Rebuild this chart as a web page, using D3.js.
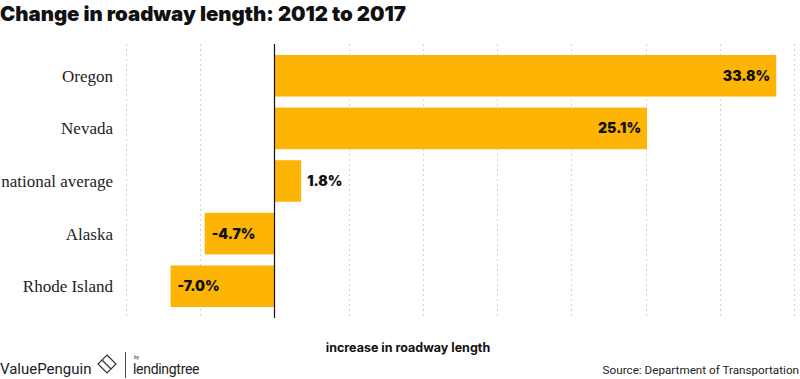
<!DOCTYPE html>
<html><head><meta charset="utf-8">
<script src="https://cdn.jsdelivr.net/npm/d3@7"></script>
<style>body{margin:0;background:#fff}svg{display:block}</style>
</head><body>
<script>
const title = "Change in roadway length: 2012 to 2017";
const categories = ["Oregon", "Nevada", "national average", "Alaska", "Rhode Island"];
const values = [33.8, 25.1, 1.8, -4.7, -7.0];
const gridTicks = [-10, -5, 0, 5, 10, 15, 20, 25, 30, 35];
const axisTitle = "increase in roadway length";
const source = "Source: Department of Transportation";

const W = 800, H = 379;
const svg = d3.select("body").append("svg").attr("width", W).attr("height", H);

const x = d3.scaleLinear().domain([-10, 35]).range([126, 794]);
const y = d3.scaleBand().domain(categories).range([45, 317]).paddingInner(0.21).paddingOuter(0.19);

// title
svg.append("text").attr("x", 0).attr("y", 21)
  .attr("font-family", "Inter, 'Open Sans', sans-serif").attr("font-weight", 900)
  .attr("font-size", 20.4).attr("fill", "#111").text(title);

// gridlines
svg.append("g").selectAll("line").data(gridTicks.filter(d => d !== 0)).join("line")
  .attr("x1", d => Math.round(x(d)) + 0.5).attr("x2", d => Math.round(x(d)) + 0.5)
  .attr("y1", 44).attr("y2", 318)
  .attr("stroke", "#dccfd0").attr("stroke-width", 1).attr("stroke-dasharray", "2,3");

// bars
const data = categories.map((c, i) => ({c, v: values[i]}));
svg.append("g").selectAll("rect").data(data).join("rect")
  .attr("x", d => x(Math.min(0, d.v))).attr("y", d => y(d.c))
  .attr("width", d => Math.abs(x(d.v) - x(0))).attr("height", y.bandwidth())
  .attr("fill", "#FDB404");

// zero line
svg.append("line").attr("x1", Math.round(x(0)) + 0.5).attr("x2", Math.round(x(0)) + 0.5)
  .attr("y1", 44).attr("y2", 318).attr("stroke", "#111").attr("stroke-width", 1.2);

// category labels
svg.append("g").selectAll("text").data(categories).join("text")
  .attr("x", 113).attr("y", d => y(d) + y.bandwidth() / 2).attr("dy", "0.35em")
  .attr("text-anchor", "end").attr("font-family", "'Liberation Serif', serif")
  .attr("font-size", 17).attr("fill", "#222").text(d => d);

// value labels
const fmt = v => v.toFixed(1) + "%";
svg.append("g").selectAll("text").data(data).join("text")
  .attr("x", d => {
    if (d.v < 0) return x(d.v) + 7;
    const w = x(d.v) - x(0);
    return w > 50 ? x(d.v) - 6 : x(d.v) + 6;
  })
  .attr("text-anchor", d => (d.v >= 0 && x(d.v) - x(0) > 50) ? "end" : "start")
  .attr("y", d => y(d.c) + y.bandwidth() / 2).attr("dy", "0.36em")
  .attr("font-family", "Inter, 'Open Sans', sans-serif").attr("font-weight", 900)
  .attr("font-size", 14).attr("fill", "#111").text(d => fmt(d.v));

// axis title
svg.append("text").attr("x", 408).attr("y", 352).attr("text-anchor", "middle")
  .attr("font-family", "Inter, 'Open Sans', sans-serif").attr("font-weight", 700)
  .attr("font-size", 12.5).attr("fill", "#111").text(axisTitle);

// logo
const logo = svg.append("g");
logo.append("text").attr("x", 0).attr("y", 374)
  .attr("font-family", "Roboto, 'Open Sans', sans-serif").attr("font-size", 15)
  .attr("fill", "#222").text("ValuePenguin");
logo.append("path").attr("d", "M107,355 L116,364 L107,373 L98,364 Z M102,360 L111,369")
  .attr("fill", "none").attr("stroke", "#333").attr("stroke-width", 1.2);
logo.append("line").attr("x1", 125.5).attr("x2", 125.5).attr("y1", 352).attr("y2", 378)
  .attr("stroke", "#444").attr("stroke-width", 1);
logo.append("text").attr("x", 134).attr("y", 359)
  .attr("font-family", "Roboto, sans-serif").attr("font-size", 5).attr("fill", "#333").text("by");
logo.append("text").attr("x", 133).attr("y", 374)
  .attr("font-family", "Roboto, sans-serif").attr("font-size", 14).attr("letter-spacing", -0.3)
  .attr("fill", "#222").text("lendingtree");

// source
svg.append("text").attr("x", 799).attr("y", 374).attr("text-anchor", "end")
  .attr("font-family", "Roboto, 'Open Sans', sans-serif").attr("font-size", 11.7)
  .attr("fill", "#222").text(source);
</script>
</body></html>
